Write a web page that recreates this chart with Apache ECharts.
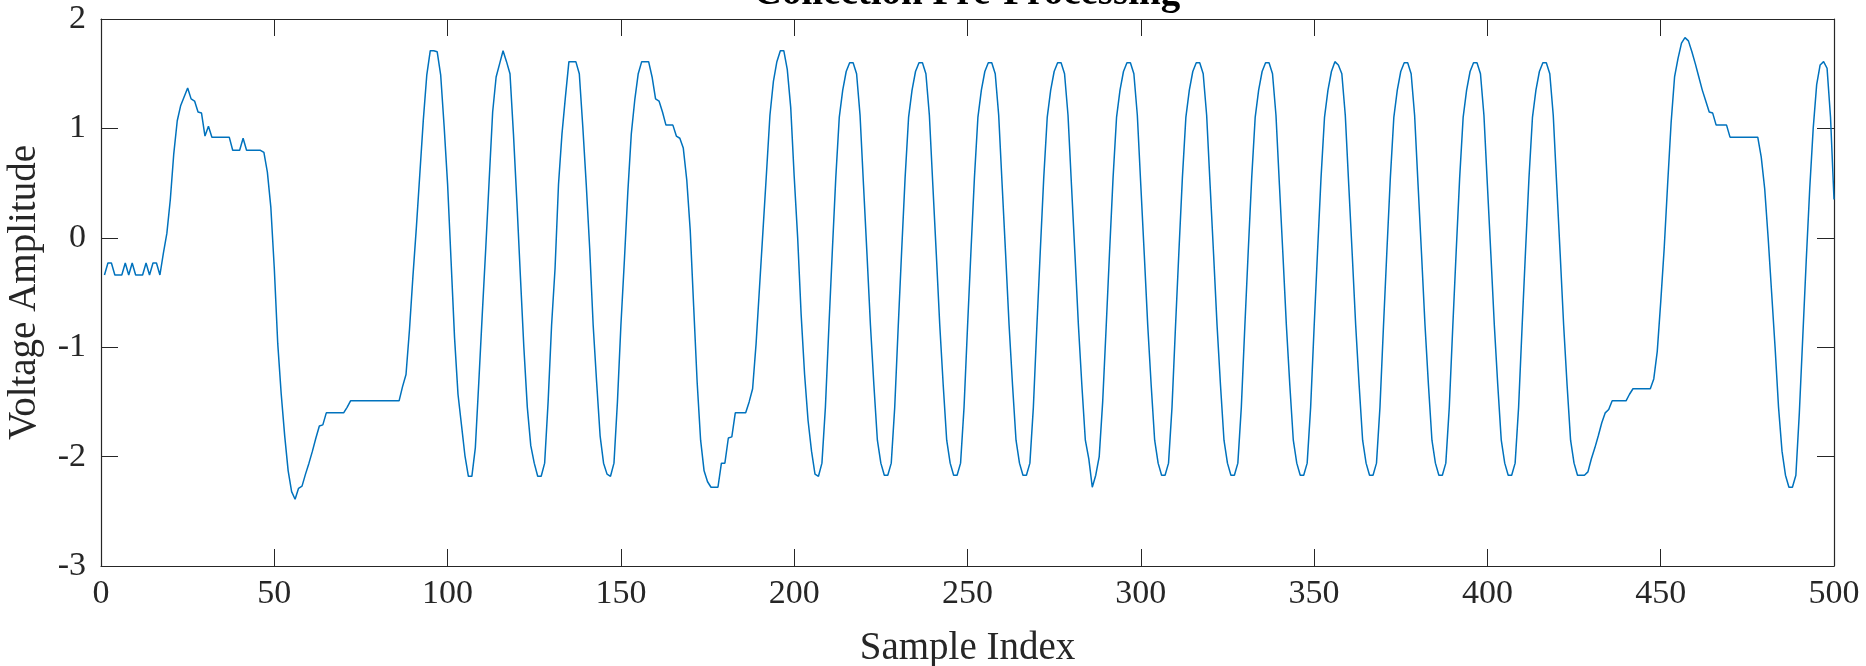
<!DOCTYPE html>
<html>
<head>
<meta charset="utf-8">
<script src="https://cdn.jsdelivr.net/npm/echarts@6/dist/echarts.min.js"></script>
<style>
html,body{margin:0;padding:0;background:#fff;}
#chart{width:1866px;height:666px;}
</style>
</head>
<body>
<div id="chart"></div>
<script>
const titleText = 'Collection Pre-Processing';
const xAxisName = 'Sample Index';
const yAxisName = 'Voltage Amplitude';
const xTicks = [0, 50, 100, 150, 200, 250, 300, 350, 400, 450, 500];
const yTicks = [-3, -2, -1, 0, 1, 2];

// samples 1..17
const seg1 = [-0.34,-0.23,-0.23,-0.34,-0.34,-0.34,-0.23,-0.34,-0.23,-0.34,-0.34,-0.34,-0.23,-0.34,-0.23,-0.23,-0.34];
// samples 18..86
const seg2 = [-0.14,0.04,0.35,0.77,1.07,1.21,1.29,1.37,1.27,1.25,1.15,1.14,0.93,1.02,0.92,
  0.92,0.92,0.92,0.92,0.92,0.80,0.80,0.80,0.91,0.80,0.80,0.80,0.80,0.80,
  0.78,0.60,0.28,-0.28,-0.97,-1.43,-1.81,-2.13,-2.32,-2.39,-2.29,-2.27,-2.16,-2.06,-1.95,-1.83,-1.72,-1.71,
  -1.60,-1.60,-1.60,-1.60,-1.60,-1.60,-1.55,
  -1.49,-1.49,-1.49,-1.49,-1.49,-1.49,-1.49,-1.49,-1.49,-1.49,-1.49,-1.49,-1.49,-1.49,-1.49];
// samples 87..135
const seg3 = [-1.36,-1.25,-0.84,-0.35,0.10,0.59,1.08,1.49,1.71,1.71,1.70,1.49,1.02,0.49,-0.21,-0.91,-1.43,-1.71,-1.99,-2.18,
  -2.18,-1.92,-1.32,-0.70,-0.10,0.53,1.15,1.47,1.59,1.71,1.61,1.50,0.95,0.32,-0.35,-1.00,-1.55,-1.90,-2.06,-2.18,
  -2.18,-2.06,-1.50,-0.80,-0.28,0.49,0.95,1.29,1.61];
// samples 136..207
const seg4 = [1.61,1.61,1.50,1.02,0.49,-0.10,-0.80,-1.32,-1.81,-2.06,-2.16,-2.18,-2.06,-1.50,-0.80,-0.21,0.42,0.95,1.26,1.50,
  1.61,1.61,1.61,1.47,1.27,1.25,1.15,1.03,1.03,1.03,0.93,0.91,0.82,0.53,0.07,-0.63,-1.32,-1.85,-2.13,-2.23,
  -2.28,-2.28,-2.28,-2.06,-2.06,-1.83,-1.82,-1.60,-1.60,-1.60,-1.60,-1.50,-1.38,-0.97,-0.45,0.07,0.59,1.12,1.43,1.61,
  1.71,1.71,1.54,1.19,0.56,0.00,-0.70,-1.25,-1.67,-1.95,-2.16,-2.18];
// samples 208..428
const seg5 = [-2.06,-1.55,-0.82,-0.12,0.55,1.10,1.35,1.52,1.60,1.60,1.50,1.12,0.48,-0.15,-0.80,-1.35,-1.85,-2.06,
  -2.17,-2.17,-2.06,-1.55,-0.82,-0.12,0.55,1.10,1.35,1.52,1.60,1.60,1.50,1.12,0.48,-0.15,-0.80,-1.35,-1.85,-2.06,
  -2.17,-2.17,-2.06,-1.55,-0.82,-0.12,0.55,1.10,1.35,1.52,1.60,1.60,1.50,1.12,0.48,-0.15,-0.80,-1.35,-1.85,-2.06,
  -2.17,-2.17,-2.06,-1.55,-0.82,-0.12,0.55,1.10,1.35,1.52,1.60,1.60,1.50,1.12,0.48,-0.15,-0.80,-1.35,-1.85,-2.02,
  -2.28,-2.17,-2.00,-1.50,-0.82,-0.12,0.55,1.10,1.35,1.52,1.60,1.60,1.50,1.12,0.48,-0.15,-0.80,-1.35,-1.85,-2.06,
  -2.17,-2.17,-2.06,-1.55,-0.82,-0.12,0.55,1.10,1.35,1.52,1.60,1.60,1.50,1.12,0.48,-0.15,-0.80,-1.35,-1.85,-2.06,
  -2.17,-2.17,-2.06,-1.55,-0.82,-0.12,0.55,1.10,1.35,1.52,1.60,1.60,1.50,1.12,0.48,-0.15,-0.80,-1.35,-1.85,-2.06,
  -2.17,-2.17,-2.06,-1.55,-0.82,-0.12,0.55,1.10,1.35,1.52,1.61,1.58,1.50,1.12,0.48,-0.15,-0.80,-1.35,-1.85,-2.06,
  -2.17,-2.17,-2.06,-1.55,-0.82,-0.12,0.55,1.10,1.35,1.52,1.60,1.60,1.50,1.12,0.48,-0.15,-0.80,-1.35,-1.85,-2.06,
  -2.17,-2.17,-2.06,-1.55,-0.82,-0.12,0.55,1.10,1.35,1.52,1.60,1.60,1.50,1.12,0.48,-0.15,-0.80,-1.35,-1.85,-2.06,
  -2.17,-2.17,-2.06,-1.55,-0.82,-0.12,0.55,1.10,1.35,1.52,1.60,1.60,1.50,1.12,0.48,-0.15,-0.80,-1.35,-1.85,-2.06,
  -2.17,-2.17,-2.17];
// samples 429..500
const seg6 = [-2.14,-2.02,-1.92,-1.81,-1.69,-1.60,-1.57,-1.49,-1.49,-1.49,-1.49,-1.49,-1.43,-1.38,-1.38,-1.38,-1.38,-1.38,-1.38,-1.29,
  -1.04,-0.59,-0.10,0.49,1.05,1.47,1.64,1.78,1.83,1.80,1.70,1.59,1.47,1.35,1.25,1.15,1.14,1.03,1.03,1.03,
  1.03,0.92,0.92,0.92,0.92,0.92,0.92,0.92,0.92,0.92,0.74,0.45,0.00,-0.50,-1.00,-1.55,-1.95,-2.17,-2.28,-2.28,
  -2.17,-1.60,-0.90,-0.20,0.45,1.00,1.40,1.58,1.61,1.55,1.10,0.35];

const voltage = seg1.concat(seg2, seg3, seg4, seg5, seg6);
const seriesData = voltage.map((v, i) => [i + 1, v]);

const FONT = '"Liberation Serif", "Times New Roman", serif';
const AX = '#262626';

const chart = echarts.init(document.getElementById('chart'), null, {renderer: 'canvas'});

const xBase = {
  type: 'value', min: xTicks[0], max: xTicks[xTicks.length - 1], interval: 50,
  axisLine: {show: true, onZero: false, lineStyle: {color: AX, width: 1.2}},
  axisTick: {show: true, inside: true, length: 17, lineStyle: {color: AX, width: 1}},
  splitLine: {show: false}
};
const yBase = {
  type: 'value', min: yTicks[0], max: yTicks[yTicks.length - 1], interval: 1,
  axisLine: {show: true, onZero: false, lineStyle: {color: AX, width: 1.2}},
  axisTick: {show: true, inside: true, length: 17, lineStyle: {color: AX, width: 1}},
  splitLine: {show: false}
};

chart.setOption({
  animation: false,
  backgroundColor: '#ffffff',
  grid: {left: 101, right: 32, top: 19, bottom: 100, containLabel: false, outerBoundsMode: 'none'},
  graphic: [{
    type: 'text', x: 967, y: 13, z: 10,
    style: {text: titleText, font: 'bold 39px ' + FONT, fill: '#000', textAlign: 'center', textVerticalAlign: 'bottom'}
  }],
  xAxis: [
    Object.assign({}, xBase, {
      position: 'bottom',
      name: xAxisName, nameLocation: 'middle', nameGap: 63,
      nameTextStyle: {fontFamily: FONT, fontSize: 39, color: AX},
      axisLabel: {show: true, margin: 11, fontFamily: FONT, fontSize: 34, color: AX}
    }),
    Object.assign({}, xBase, {position: 'top', axisLabel: {show: false}})
  ],
  yAxis: [
    Object.assign({}, yBase, {
      position: 'left',
      name: yAxisName, nameLocation: 'middle', nameGap: 57, nameRotate: 90,
      nameTextStyle: {fontFamily: FONT, fontSize: 39, color: AX},
      axisLabel: {show: true, margin: 15, fontFamily: FONT, fontSize: 34, color: AX}
    }),
    Object.assign({}, yBase, {position: 'right', axisLabel: {show: false}})
  ],
  series: [{
    type: 'line', xAxisIndex: 0, yAxisIndex: 0,
    data: seriesData, showSymbol: false, symbol: 'none',
    lineStyle: {color: '#0072BD', width: 1.5}, itemStyle: {color: '#0072BD'}
  }]
});
</script>
</body>
</html>
